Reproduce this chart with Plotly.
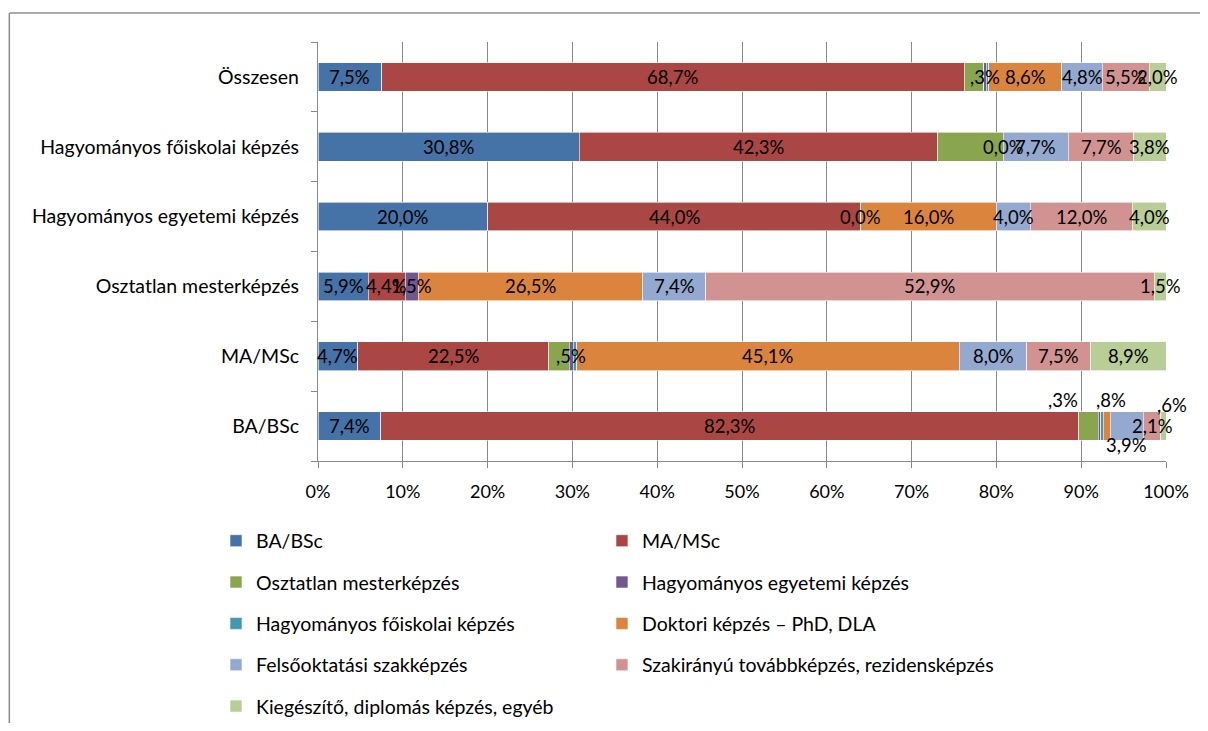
import numpy as np
import plotly.graph_objects as go

# rows, bottom to top as plotly draws a category y axis
categories = [
    "BA/BSc",
    "MA/MSc",
    "Osztatlan mesterképzés",
    "Hagyományos egyetemi képzés",
    "Hagyományos főiskolai képzés",
    "Összesen",
]

series_names = [
    "BA/BSc",
    "MA/MSc",
    "Osztatlan mesterképzés",
    "Hagyományos egyetemi képzés",
    "Hagyományos főiskolai képzés",
    "Doktori képzés – PhD, DLA",
    "Felsőoktatási szakképzés",
    "Szakirányú továbbképzés, rezidensképzés",
    "Kiegészítő, diplomás képzés, egyéb",
]

# shares in percent, one list per series, same order as categories
ba_bsc = [7.4, 4.7, 5.9, 20.0, 30.8, 7.5]
ma_msc = [82.3, 22.5, 4.4, 44.0, 42.3, 68.7]
osztatlan = [2.3, 2.4, 0.0, 0.0, 7.7, 2.3]
hagy_egyetemi = [0.3, 0.5, 1.5, 0.0, 0.0, 0.3]
hagy_foiskolai = [0.3, 0.4, 0.0, 0.0, 0.0, 0.3]
doktori = [0.8, 45.1, 26.5, 16.0, 0.0, 8.6]
felsooktatasi = [3.9, 8.0, 7.4, 4.0, 7.7, 4.8]
szakiranyu = [2.1, 7.5, 52.9, 12.0, 7.7, 5.5]
kiegeszito = [0.6, 8.9, 1.5, 4.0, 3.8, 2.0]

# data labels as printed on the chart ("" = not shown)
lbl_ba_bsc = ["7,4%", "4,7%", "5,9%", "20,0%", "30,8%", "7,5%"]
lbl_ma_msc = ["82,3%", "22,5%", "4,4%", "44,0%", "42,3%", "68,7%"]
lbl_osztatlan = ["", "", "", "0,0%", "", ""]
lbl_hagy_egyetemi = [",3%", ",5%", "1,5%", "", "0,0%", ",3%"]
lbl_hagy_foiskolai = ["", "", "", "", "", ""]
lbl_doktori = [",8%", "45,1%", "26,5%", "16,0%", "", "8,6%"]
lbl_felsooktatasi = ["3,9%", "8,0%", "7,4%", "4,0%", "7,7%", "4,8%"]
lbl_szakiranyu = ["2,1%", "7,5%", "52,9%", "12,0%", "7,7%", "5,5%"]
lbl_kiegeszito = [",6%", "8,9%", "1,5%", "4,0%", "3,8%", "2,0%"]

values = [ba_bsc, ma_msc, osztatlan, hagy_egyetemi, hagy_foiskolai,
          doktori, felsooktatasi, szakiranyu, kiegeszito]
labels = [lbl_ba_bsc, lbl_ma_msc, lbl_osztatlan, lbl_hagy_egyetemi, lbl_hagy_foiskolai,
          lbl_doktori, lbl_felsooktatasi, lbl_szakiranyu, lbl_kiegeszito]

colors = ["#4572A7", "#AA4643", "#89A54E", "#71588F", "#4198AF",
          "#DB843D", "#93A9CF", "#D19392", "#B9CD96"]

# which legend column each series goes to
legend_col = ["legend", "legend2", "legend", "legend2", "legend",
              "legend2", "legend", "legend2", "legend"]

# hand-moved labels in the BA/BSc row: (series, row) -> (xshift, yshift)
label_shift = {
    (3, 0): (-36, 26),
    (5, 0): (4, 26),
    (8, 0): (9, 21),
    (6, 0): (0, -19),
}

FONT = "Lato, 'Open Sans', sans-serif"
GRID = "#898989"

fig = go.Figure()
for i, name in enumerate(series_names):
    fig.add_bar(
        y=categories,
        x=values[i],
        name=name,
        orientation="h",
        marker=dict(color=colors[i], line=dict(color="white", width=0.6)),
        legend=legend_col[i],
        legendgroup=name,
        hoverinfo="name+x",
    )

# data labels centred on each segment
vals = np.array(values)
starts = np.vstack([np.zeros(vals.shape[1]), np.cumsum(vals, axis=0)[:-1]])
for i in range(len(series_names)):
    for j, cat in enumerate(categories):
        txt = labels[i][j]
        if not txt:
            continue
        dx, dy = label_shift.get((i, j), (0, 0))
        fig.add_annotation(
            x=starts[i, j] + vals[i, j] / 2,
            y=cat,
            text=txt,
            showarrow=False,
            xshift=dx,
            yshift=dy,
            font=dict(family=FONT, size=18.5, color="black"),
        )

# outer chart border: only its top and left edges are inside the page
border = dict(color="#8c8c8c", width=1.5)
fig.add_shape(type="line", xref="paper", yref="paper",
              x0=-0.364, x1=1.2, y0=1.069, y1=1.069, line=border, layer="below")
fig.add_shape(type="line", xref="paper", yref="paper",
              x0=-0.364, x1=-0.364, y0=-1.0, y1=1.069, line=border, layer="below")

legend_style = dict(
    xref="container", yref="container",
    xanchor="left", yanchor="top",
    orientation="v",
    traceorder="grouped",
    tracegroupgap=13,
    font=dict(family=FONT, size=19.5),
    bgcolor="rgba(0,0,0,0)",
)

# the page body adds 8px round the figure, so it is kept inside the window
fig.update_layout(
    width=1192,
    height=715,
    barmode="stack",
    bargap=0.59,
    plot_bgcolor="white",
    paper_bgcolor="white",
    font=dict(family=FONT, size=19.5, color="black"),
    margin=dict(l=310, r=34, t=34, b=262, autoexpand=False),
    xaxis=dict(
        range=[0, 100],
        tickvals=[0, 10, 20, 30, 40, 50, 60, 70, 80, 90, 100],
        ticktext=["0%", "10%", "20%", "30%", "40%", "50%", "60%", "70%", "80%", "90%", "100%"],
        tickfont=dict(size=18),
        showgrid=True,
        gridcolor=GRID,
        gridwidth=1.2,
        showline=True,
        linecolor=GRID,
        linewidth=1.2,
        ticks="outside",
        ticklen=6,
        tickcolor=GRID,
        zeroline=False,
        fixedrange=True,
        ticklabelstandoff=8,
    ),
    yaxis=dict(
        type="category",
        categoryorder="array",
        categoryarray=categories,
        showline=True,
        linecolor=GRID,
        linewidth=1.2,
        ticks="outside",
        tickson="boundaries",
        ticklen=6,
        tickcolor=GRID,
        showgrid=False,
        ticklabelstandoff=14,
        fixedrange=True,
    ),
    legend=dict(x=0.1745, y=0.2818, **legend_style),
    legend2=dict(x=0.4983, y=0.2818, **legend_style),
)

fig.write_html("out.html")
